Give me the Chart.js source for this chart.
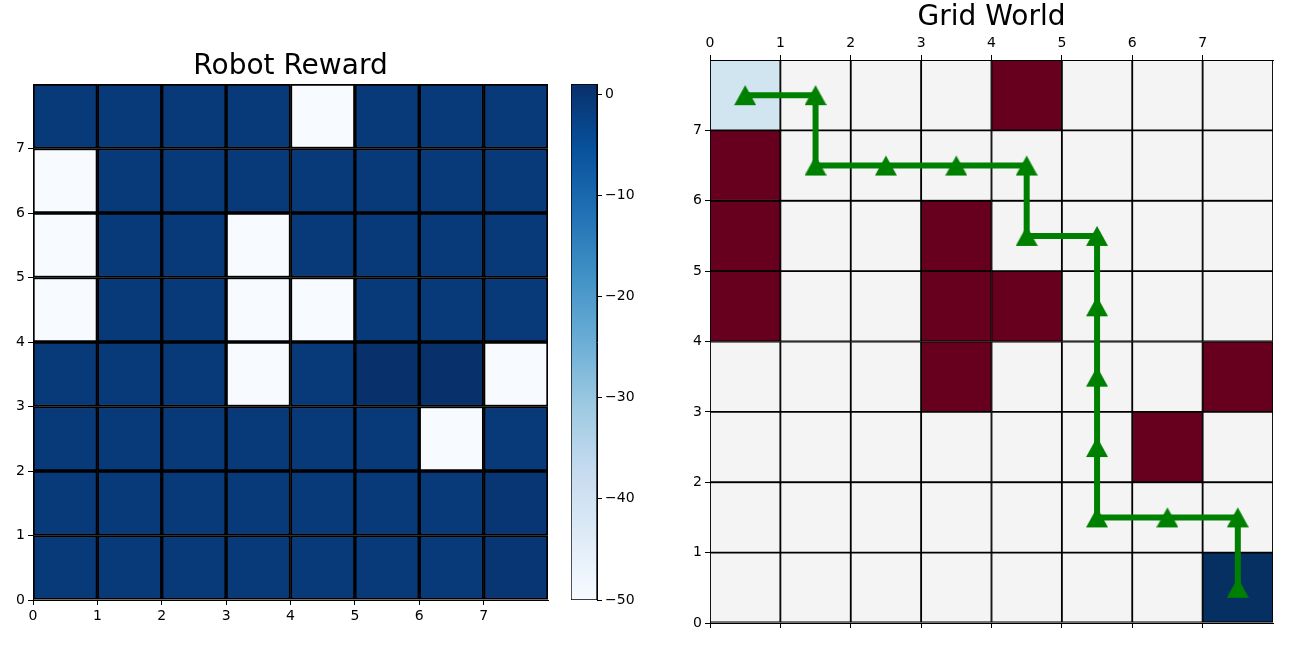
<!DOCTYPE html>
<html>
<head>
<meta charset="utf-8">
<script src="https://cdn.jsdelivr.net/npm/chart.js@4"></script>
<style>
  body { margin: 0; background: #fff; width: 1292px; height: 645px; overflow: hidden; }
  canvas { position: absolute; top: 0; }
</style>
</head>
<body>
<canvas id="reward" width="560" height="645" style="left:0"></canvas>
<canvas id="cbar" width="80" height="645" style="left:560px"></canvas>
<canvas id="grid" width="642" height="645" style="left:650px"></canvas>
<script>
// grid columns 0..7, rows listed from the top (y = 7) down to y = 0
const cols = [0, 1, 2, 3, 4, 5, 6, 7];
const rowY = [7, 6, 5, 4, 3, 2, 1, 0];

const rewardRows = [
  [-1, -1, -1, -1, -50, -1, -1, -1],
  [-50, -1, -1, -1, -1, -1, -1, -1],
  [-50, -1, -1, -50, -1, -1, -1, -1],
  [-50, -1, -1, -50, -50, -1, -1, -1],
  [-1, -1, -1, -50, -1, 1, 1, -50],
  [-1, -1, -1, -1, -1, -1, -50, -1],
  [-1, -1, -1, -1, -1, -1, -1, 0],
  [-1, -1, -1, -1, -1, -1, -1, 0]
];

// S = start, X = obstacle, G = goal, . = free
const worldRows = [
  ['S', '.', '.', '.', 'X', '.', '.', '.'],
  ['X', '.', '.', '.', '.', '.', '.', '.'],
  ['X', '.', '.', 'X', '.', '.', '.', '.'],
  ['X', '.', '.', 'X', 'X', '.', '.', '.'],
  ['.', '.', '.', 'X', '.', '.', '.', 'X'],
  ['.', '.', '.', '.', '.', '.', 'X', '.'],
  ['.', '.', '.', '.', '.', '.', '.', '.'],
  ['.', '.', '.', '.', '.', '.', '.', 'G']
];

const pathX = [0.5, 1.5, 1.5, 2.5, 3.5, 4.5, 4.5, 5.5, 5.5, 5.5, 5.5, 5.5, 6.5, 7.5, 7.5];
const pathY = [7.5, 7.5, 6.5, 6.5, 6.5, 6.5, 5.5, 5.5, 4.5, 3.5, 2.5, 1.5, 1.5, 1.5, 0.5];

const tickVals = [0, 1, 2, 3, 4, 5, 6, 7];
const cbTicks = [0, -10, -20, -30, -40, -50];
const cbMin = -50, cbMax = 1;

const FONT = 'DejaVu Sans';
const TICK_FONT = { family: FONT, size: 14 };
const bluesStops = ['#f7fbff', '#deebf7', '#c6dbef', '#9ecae1', '#6baed6', '#4292c6', '#2171b5', '#08519c', '#08306b'];
const worldColors = { 'S': '#d1e5f0', 'X': '#67001f', 'G': '#053061', '.': '#f4f4f4' };

function hex(c) { return [1, 3, 5].map(i => parseInt(c.substr(i, 2), 16)); }
function blues(t) {
  t = Math.max(0, Math.min(1, t));
  const p = t * (bluesStops.length - 1);
  const i = Math.min(Math.floor(p), bluesStops.length - 2);
  const f = p - i;
  const a = hex(bluesStops[i]), b = hex(bluesStops[i + 1]);
  const c = a.map((v, k) => Math.round(v + (b[k] - v) * f));
  return `rgb(${c[0]},${c[1]},${c[2]})`;
}
const minus = v => String(v).replace('-', '\u2212');

// flatten rows into floating bars (one bar per cell)
function cells(rows, colorOf) {
  const data = [], colors = [];
  rows.forEach((row, r) => {
    row.forEach((v, c) => {
      data.push({ x: cols[c] + 0.5, y: [rowY[r], rowY[r] + 1] });
      colors.push(colorOf(v));
    });
  });
  return { data, colors };
}

function axis(pos, size, tickColor) {
  return {
    type: 'linear', position: pos, min: 0, max: 8, offset: false,
    afterBuildTicks: s => { s.ticks = tickVals.map(v => ({ value: v })); },
    afterFit: s => { if (pos === 'left') s.width = size; else s.height = size; },
    ticks: { stepSize: 1, color: tickColor || '#000', padding: 3, font: TICK_FONT },
    grid: { drawOnChartArea: false, offset: false, tickLength: 5, tickColor: '#000', tickWidth: 1 },
    border: { display: true, color: '#000', width: 1 }
  };
}

// center the title over the plot area, like matplotlib does
const centerTitle = {
  id: 'centerTitle',
  afterLayout(chart) {
    if (chart.titleBlock) {
      chart.titleBlock.left = chart.chartArea.left;
      chart.titleBlock.right = chart.chartArea.right;
    }
  }
};

Chart.defaults.font.family = FONT;

// ---- left: reward heatmap
const rw = cells(rewardRows, v => blues((v - cbMin) / (cbMax - cbMin)));
new Chart(document.getElementById('reward'), {
  type: 'bar',
  plugins: [centerTitle],
  data: {
    datasets: [{
      data: rw.data,
      backgroundColor: rw.colors,
      borderColor: '#000',
      borderWidth: 2,
      borderSkipped: false,
      grouped: false,
      barPercentage: 1,
      categoryPercentage: 1
    }]
  },
  options: {
    responsive: false,
    animation: false,
    layout: { padding: { right: 12 } },
    plugins: {
      legend: { display: false },
      tooltip: { enabled: false },
      title: {
        display: true, text: 'Robot Reward', color: '#000',
        font: { family: FONT, size: 28, weight: 'normal' },
        padding: { top: 50.2, bottom: 0.2 }
      }
    },
    scales: {
      x: axis('bottom', 45),
      y: axis('left', 33)
    }
  }
});

// ---- colour bar
new Chart(document.getElementById('cbar'), {
  type: 'bar',
  data: {
    labels: [''],
    datasets: [{
      data: [[cbMin, cbMax]],
      backgroundColor: ctx => {
        const area = ctx.chart.chartArea;
        if (!area) return bluesStops[8];
        const g = ctx.chart.ctx.createLinearGradient(0, area.bottom, 0, area.top);
        bluesStops.forEach((c, i) => g.addColorStop(i / (bluesStops.length - 1), c));
        return g;
      },
      borderColor: '#000',
      borderWidth: 1,
      borderSkipped: false,
      barPercentage: 1,
      categoryPercentage: 1
    }]
  },
  options: {
    responsive: false,
    animation: false,
    layout: { padding: { left: 11, top: 84, bottom: 45 } },
    plugins: { legend: { display: false }, tooltip: { enabled: false } },
    scales: {
      x: { display: false },
      y: {
        position: 'right', min: cbMin, max: cbMax,
        afterBuildTicks: s => { s.ticks = cbTicks.map(v => ({ value: v })); },
        afterFit: s => { s.width = 43; },
        ticks: { color: '#000', padding: 3, font: TICK_FONT, callback: v => minus(v) },
        grid: { drawOnChartArea: false, tickLength: 5, tickColor: '#000' },
        border: { display: true, color: '#000' }
      }
    }
  }
});

// ---- right: grid world with path
const triangle = document.createElement('canvas');
triangle.width = 22; triangle.height = 22;
(() => {
  const t = triangle.getContext('2d');
  t.fillStyle = '#008000';
  t.beginPath();
  t.moveTo(11, 1); t.lineTo(22, 21); t.lineTo(0, 21);
  t.closePath(); t.fill();
})();

const gw = cells(worldRows, v => worldColors[v]);
new Chart(document.getElementById('grid'), {
  plugins: [centerTitle],
  data: {
    datasets: [{
      type: 'line',
      order: 0,
      data: pathX.map((x, i) => ({ x, y: pathY[i] })),
      borderColor: '#008000',
      borderWidth: 6,
      pointStyle: triangle,
      pointRadius: 11,
      tension: 0
    }, {
      type: 'bar',
      order: 1,
      data: gw.data,
      backgroundColor: gw.colors,
      borderColor: '#000',
      borderWidth: 1.25,
      borderSkipped: false,
      grouped: false,
      barPercentage: 1,
      categoryPercentage: 1
    }]
  },
  options: {
    responsive: false,
    animation: false,
    layout: { padding: { right: 19 } },
    plugins: {
      legend: { display: false },
      tooltip: { enabled: false },
      title: {
        display: true, text: 'Grid World', color: '#000',
        font: { family: FONT, size: 28, weight: 'normal' },
        padding: { top: 1.2, bottom: 0 }
      }
    },
    scales: {
      x: axis('top', 25.2),
      x2: axis('bottom', 22, 'rgba(0,0,0,0)'),
      y: axis('left', 60)
    }
  }
});
</script>
</body>
</html>
